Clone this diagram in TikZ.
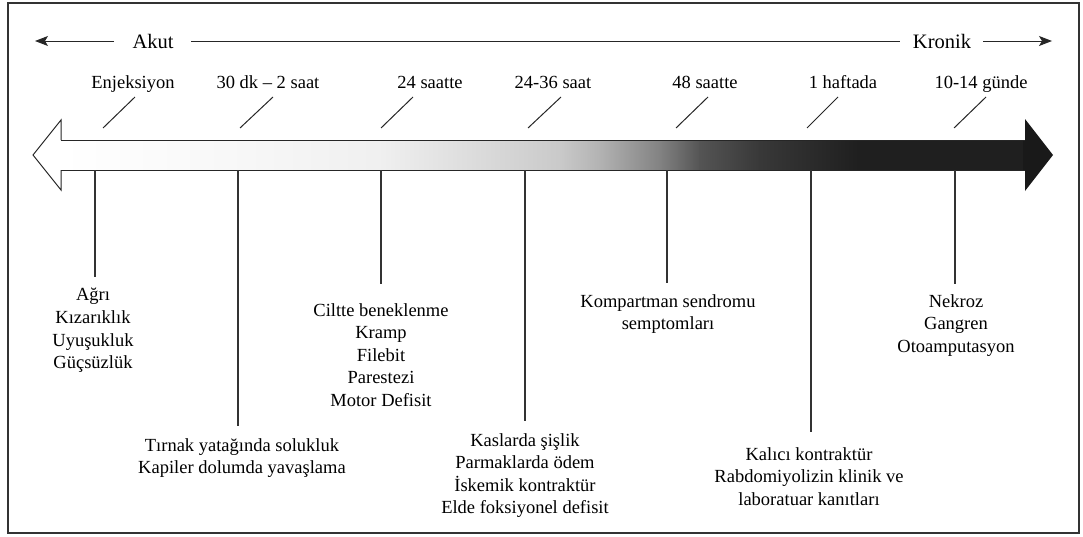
\documentclass[tikz,border=0pt]{standalone}
\usepackage{fontspec}
\setmainfont{Liberation Serif}
\usetikzlibrary{arrows.meta}
\tikzset{
  lbl/.style={font=\fontsize{18.5}{22.6}\selectfont, inner sep=0pt, anchor=base},
  blk/.style={font=\fontsize{18.5}{22.6}\selectfont, inner sep=0pt, anchor=north, align=center},
  big/.style={font=\fontsize{20.5}{24}\selectfont, inner sep=0pt, anchor=base},
  vline/.style={line width=1.1pt, black!80},
  slash/.style={line width=1pt, black!85},
  topline/.style={line width=1pt, black!85},
  tip/.style={-{Stealth[length=13pt,width=10pt,inset=3pt]}}
}
\begin{document}
\begin{tikzpicture}[x=1pt,y=-1pt]
\useasboundingbox (0,0) rectangle (1083,536);
\draw[line width=1.6pt, black!80] (8,3) rectangle (1079,533);

% top axis
\node[big] (akut) at (153,48) {Akut};
\node[big] (kronik) at (942,48) {Kronik};
\coordinate (la) at (114,41);
\coordinate (lt) at (35,41);
\coordinate (ma) at (191,41);
\coordinate (mb) at (900,41);
\coordinate (ra) at (983,41);
\coordinate (rt) at (1052,41);
\draw[topline,tip] (la) -- (lt);
\draw[topline] (ma) -- (mb);
\draw[topline,tip] (ra) -- (rt);

% big arrow body gradient
\foreach \xa/\xb/\ca/\cb in {61/240/0/3, 240/380/3/6, 380/525/6/18, 525/560/18/21, 560/600/21/30, 600/660/30/49, 660/700/49/67, 700/760/67/78, 760/860/78/88}{
  \shade[left color=black!\ca, right color=black!\cb] (\xa-0.3,140) rectangle (\xb+0.3,170);
}
\fill[black!88] (860,140) rectangle (1025,170);
\fill[black!90] (1023,140) -- (1025,140) -- (1025,119) -- (1053,155) -- (1025,191) -- (1025,170) -- (1023,170) -- cycle;
\draw[line width=1pt, black!85, fill=white] (61,140) -- (61,120) -- (33,155) -- (61,190) -- (61,170);
\draw[line width=1pt, black!85] (61,140) -- (1025,140) (61,170) -- (1025,170);

% time labels
\node[lbl] (t1) at (133,88) {Enjeksiyon};
\node[lbl] (t2) at (268,88) {30 dk -- 2 saat};
\node[lbl] (t3) at (430,88) {24 saatte};
\node[lbl] (t4) at (553,88) {24-36 saat};
\node[lbl] (t5) at (705,88) {48 saatte};
\node[lbl] (t6) at (843,88) {1 haftada};
\node[lbl] (t7) at (981,88) {10-14 günde};

% slashes
\foreach \i/\a/\b in {1/103/135, 2/240/273, 3/381/413, 4/528/561, 5/676/708, 6/807/838, 7/954/986}{
  \coordinate (sa\i) at (\a,128);
  \coordinate (sb\i) at (\b,97);
  \draw[slash] (sa\i) -- (sb\i);
}

% symptom blocks
\node[blk] (n1) at (93,288) {Ağrı\\Kızarıklık\\Uyuşukluk\\Güçsüzlük};
\node[blk] (n2) at (242,438) {Tırnak yatağında solukluk\\Kapiler dolumda yavaşlama};
\node[blk] (n3) at (381,303) {Ciltte beneklenme\\Kramp\\Filebit\\Parestezi\\Motor Defisit};
\node[blk] (n4) at (525,433) {Kaslarda şişlik\\Parmaklarda ödem\\İskemik kontraktür\\Elde foksiyonel defisit};
\node[blk] (n5) at (668,294) {Kompartman sendromu\\semptomları};
\node[blk] (n6) at (809,447) {Kalıcı kontraktür\\Rabdomiyolizin klinik ve\\laboratuar kanıtları};
\node[blk] (n7) at (956,294) {Nekroz\\Gangren\\Otoamputasyon};

% vertical connectors
\foreach \i/\x/\e in {1/95/277, 2/238/426, 3/381/284, 4/525/421, 5/667/283, 6/811/432, 7/955/284}{
  \coordinate (ba\i) at (\x,170);
  \coordinate (be\i) at (\x,\e);
  \draw[vline] (ba\i) -- (be\i);
}
\end{tikzpicture}
\end{document}
